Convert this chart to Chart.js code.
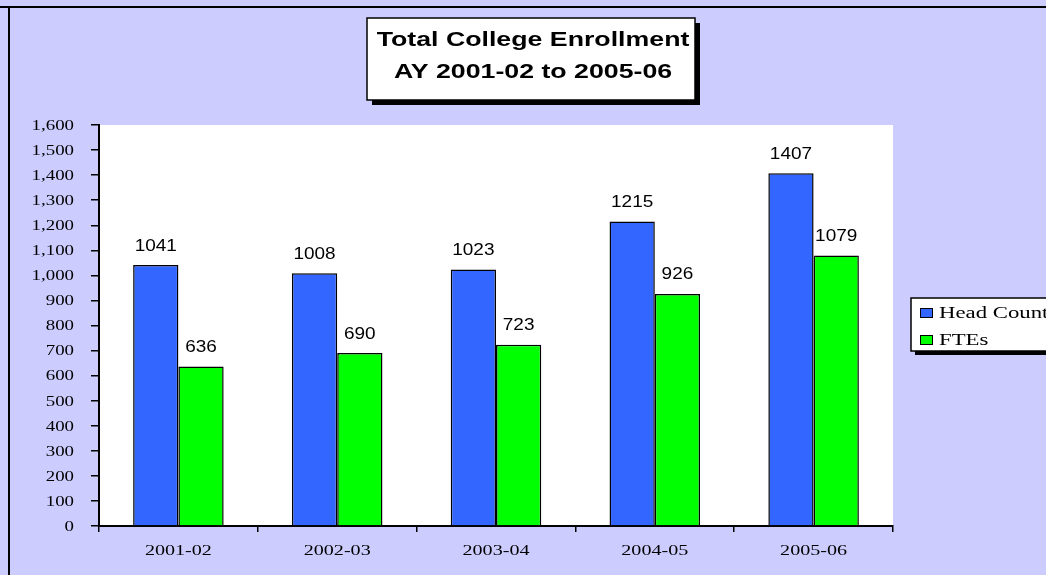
<!DOCTYPE html>
<html>
<head>
<meta charset="utf-8">
<script src="https://cdn.jsdelivr.net/npm/chart.js@4/dist/chart.umd.min.js"></script>
<style>
  html, body { margin: 0; padding: 0; background: #ccccff; }
  #wrap { width: 1046px; height: 575px; position: relative; }
</style>
</head>
<body>
<div id="wrap"><canvas id="chart"></canvas></div>
<script>
"use strict";

const YEARS = ["2001-02", "2002-03", "2003-04", "2004-05", "2005-06"];
const HEAD_COUNT = [1041, 1008, 1023, 1215, 1407];
const FTES = [636, 690, 723, 926, 1079];
const TITLE_LINES = ["Total College Enrollment", "AY 2001-02 to 2005-06"];

const COLORS = {
  page: "#ccccff",
  plot: "#ffffff",
  head: "#3366ff",
  fte: "#00ff00",
  ink: "#000000",
};

const SERIF = '"Liberation Serif", "Times New Roman", serif';
const SANS = '"Liberation Sans", Arial, sans-serif';

// text in the source is drawn wider than the fonts we have, so stretch it a bit
function wideText(ctx, text, x, y, font, sx, align) {
  ctx.save();
  ctx.translate(x, y);
  ctx.scale(sx, 1);
  ctx.font = font;
  ctx.fillStyle = COLORS.ink;
  ctx.textAlign = align;
  ctx.textBaseline = "middle";
  ctx.fillText(text, 0, 0);
  ctx.restore();
}

function shadowBox(ctx, x, y, w, h, off) {
  ctx.save();
  ctx.fillStyle = COLORS.ink;
  ctx.fillRect(x + off, y + off, w, h);
  ctx.fillStyle = "#ffffff";
  ctx.fillRect(x, y, w, h);
  ctx.strokeStyle = COLORS.ink;
  ctx.lineWidth = 1.5;
  ctx.strokeRect(x, y, w, h);
  ctx.restore();
}

const framePlugin = {
  id: "frame",
  beforeDraw(chart) {
    const { ctx, chartArea: a } = chart;
    ctx.save();
    ctx.fillStyle = COLORS.page;
    ctx.fillRect(0, 0, chart.width, chart.height);
    ctx.fillStyle = COLORS.ink;
    ctx.fillRect(0, 6, chart.width, 2);
    ctx.fillRect(8, 6, 2, chart.height);
    ctx.fillStyle = COLORS.plot;
    ctx.fillRect(a.left, a.top, a.right - a.left, a.bottom - a.top);
    ctx.restore();
  },
  afterDatasetsDraw(chart) {
    const { ctx } = chart;
    chart.data.datasets.forEach((ds, i) => {
      chart.getDatasetMeta(i).data.forEach((bar, j) => {
        wideText(ctx, String(ds.data[j]), bar.x, bar.y - 19, "16.5px " + SANS, 1.15, "center");
      });
    });
  },
  afterDraw(chart) {
    const { ctx, scales } = chart;
    // axis labels
    scales.y.ticks.forEach(t => {
      wideText(ctx, t.value.toLocaleString("en-US"), 74, scales.y.getPixelForValue(t.value) + 1, "14.5px " + SERIF, 1.3, "right");
    });
    YEARS.forEach((lab, i) => {
      wideText(ctx, lab, scales.x.getPixelForValue(i), 551, "15px " + SERIF, 1.34, "center");
    });

    // title box
    shadowBox(ctx, 367, 18, 328, 82, 5);
    wideText(ctx, TITLE_LINES[0], 533, 41, "bold 19.5px " + SANS, 1.37, "center");
    wideText(ctx, TITLE_LINES[1], 533, 73, "bold 19.5px " + SANS, 1.37, "center");

    // legend box
    shadowBox(ctx, 911, 298, 150, 53, 4);
    chart.data.datasets.forEach((ds, i) => {
      const y = 313 + i * 27;
      ctx.save();
      ctx.fillStyle = ds.backgroundColor;
      ctx.fillRect(920, y - 4, 12, 9);
      ctx.strokeStyle = COLORS.ink;
      ctx.lineWidth = 1;
      ctx.strokeRect(920.5, y - 4.5, 12, 9);
      ctx.restore();
      wideText(ctx, ds.label, 939, y + 1, "16.5px " + SERIF, 1.38, "left");
    });
  },
};

new Chart(document.getElementById("chart"), {
  type: "bar",
  data: {
    labels: YEARS,
    datasets: [
      { label: "Head Count", data: HEAD_COUNT, backgroundColor: COLORS.head, borderColor: COLORS.ink, borderWidth: 1.5 },
      { label: "FTEs", data: FTES, backgroundColor: COLORS.fte, borderColor: COLORS.ink, borderWidth: 1.5 },
    ],
  },
  options: {
    responsive: true,
    maintainAspectRatio: false,
    animation: false,
    events: [],
    layout: { padding: { left: 0, top: 125, right: 153, bottom: 0 } },
    plugins: { legend: { display: false }, tooltip: { enabled: false }, title: { display: false } },
    datasets: { bar: { categoryPercentage: 0.57, barPercentage: 1 } },
    scales: {
      x: {
        offset: true,
        grid: { offset: true, drawOnChartArea: false, drawTicks: true, tickLength: 6, color: COLORS.ink, lineWidth: 1.5 },
        border: { display: true, color: COLORS.ink, width: 2 },
        ticks: { display: false },
        afterFit(scale) { scale.height = 49; },
      },
      y: {
        min: 0,
        max: 1600,
        grid: { drawOnChartArea: false, drawTicks: true, tickLength: 8, color: COLORS.ink, lineWidth: 1.5 },
        border: { display: true, color: COLORS.ink, width: 2 },
        ticks: { display: false, stepSize: 100 },
        afterFit(scale) { scale.width = 99; },
      },
    },
  },
  plugins: [framePlugin],
});
</script>
</body>
</html>
